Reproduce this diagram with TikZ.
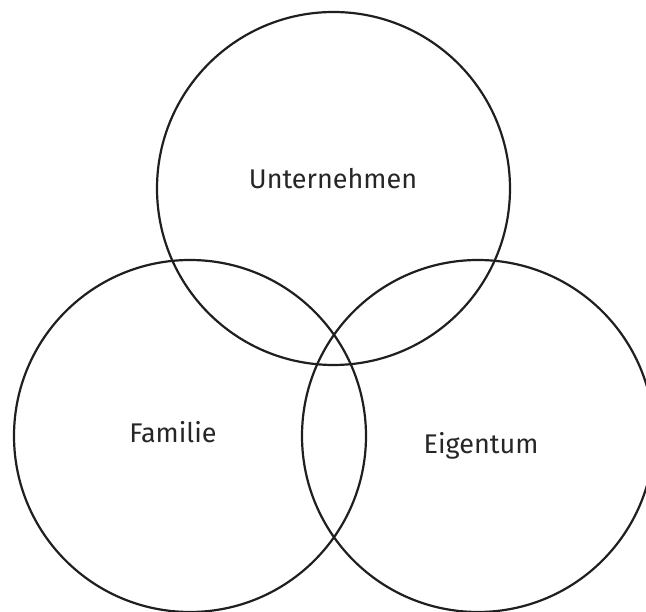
\documentclass[tikz,border=0pt]{standalone}
\usepackage{fontspec}
\setmainfont{Fira Sans}
\begin{document}
\begin{tikzpicture}[x=1pt,y=-1pt,
  ring/.style={circle, draw=black!88, line width=2.2pt, minimum size=352pt, inner sep=0pt},
  lbl/.style={anchor=base, font=\fontsize{27}{31}\selectfont, text=black!85}]
\useasboundingbox (0,0) rectangle (646,612);
\clip (0,0) rectangle (646,612);
\node[ring, minimum size=353pt] (u) at (333.5,188.5) {};
\node[ring] (f) at (190,436) {};
\node[ring] (e) at (478,436) {};
\node[lbl] (tu) at (333,189) {Unternehmen};
\node[lbl] (tf) at (173,443) {Familie};
\node[lbl] (te) at (481,454) {Eigentum};
\end{tikzpicture}
\end{document}
